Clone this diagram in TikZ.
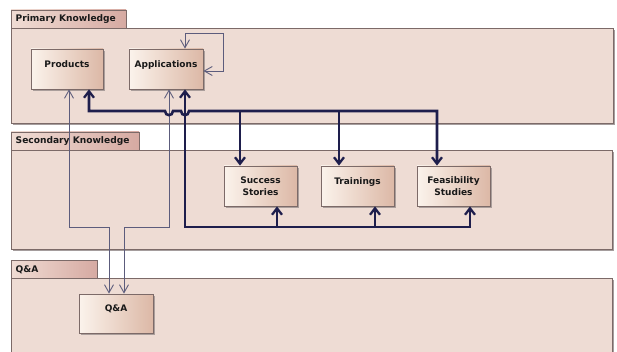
\documentclass[tikz,border=0pt]{standalone}
\usepackage{fontspec}
\setmainfont{DejaVu Sans}
\usetikzlibrary{arrows.meta,shadows}
\definecolor{pkgfill}{HTML}{EEDCD4}
\definecolor{pkgedge}{HTML}{7C6A68}
\definecolor{tabL}{HTML}{F0DCD4}
\definecolor{tabR}{HTML}{D6AAA2}
\definecolor{boxL}{HTML}{FBF3EC}
\definecolor{boxR}{HTML}{DCB8A6}
\definecolor{busclr}{HTML}{1E1E4C}
\definecolor{linkclr}{HTML}{5C5C7C}
\definecolor{shadowclr}{HTML}{8E8484}
\tikzset{
  pkgbody/.style={draw=pkgedge, fill=pkgfill, line width=0.9pt,
    drop shadow={shadow xshift=1.6pt, shadow yshift=-1.6pt, fill=shadowclr, opacity=0.8}},
  pkgtab/.style={draw=pkgedge, left color=tabL, right color=tabR, line width=0.9pt},
  tablabel/.style={anchor=west, font=\bfseries\fontsize{9.1}{10}\selectfont, text=black!90, inner sep=0pt},
  item/.style={draw=pkgedge, line width=0.8pt, left color=boxL, right color=boxR,
    minimum height=40pt, minimum width=73pt, align=center, inner sep=1pt,
    font=\bfseries\fontsize{9}{12}\selectfont, text=black!90,
    drop shadow={shadow xshift=2pt, shadow yshift=-2pt, fill=shadowclr, opacity=0.7}},
  bus/.style={draw=busclr, line width=2.6pt, line join=miter,
    arrows={Straight Barb[length=6.5pt,width=10pt,line width=2.3pt]-Straight Barb[length=6.5pt,width=10pt,line width=2.3pt]}},
  busend/.style={draw=busclr, line width=2.6pt,
    -{Straight Barb[length=6.5pt,width=10pt,line width=2.3pt]}},
  link/.style={draw=linkclr, line width=0.9pt,
    {Straight Barb[length=8pt,width=9pt,line width=0.9pt]}-{Straight Barb[length=8pt,width=9pt,line width=0.9pt]}},
}
\begin{document}
\begin{tikzpicture}[x=1pt,y=-1pt]
\useasboundingbox (0,0) rectangle (617,352);
\begin{scope}
\clip (0,0) rectangle (617,352);
% package frames
\draw[pkgbody] (11,28) rectangle (613,123);
\draw[pkgtab] (11,10) rectangle (126,28);
\node[tablabel] (tabprimary) at (15.5,19.5) {Primary Knowledge};

\draw[pkgbody] (11,150) rectangle (612,249);
\draw[pkgtab] (11,132) rectangle (139,150);
\node[tablabel] (tabsecondary) at (15.5,141.5) {Secondary Knowledge};

\draw[pkgbody] (11,278) rectangle (612,372);
\draw[pkgtab] (11,260) rectangle (97,278);
\node[tablabel] (tabqa) at (15.5,269.5) {Q\&A};
\end{scope}

% elements
\node[item, minimum width=72pt] (prod) at (67,69) {Products\\[-2pt]};
\node[item, minimum width=74pt] (app) at (166,69) {Applications\\[-2pt]};
\node[item] (ss) at (260.5,186) {Success\\Stories};
\node[item] (tr) at (357.5,186) {Trainings\\[-2pt]};
\node[item] (fs) at (453.5,186) {Feasibility\\Studies};
\node[item, minimum width=74pt, minimum height=39pt] (qa) at (116,313.5) {Q\&A\\[-2pt]};

% bus corners
\coordinate (ba) at (89,111);
\coordinate (bb) at (437,111);
\coordinate (ca) at (185,227);
\coordinate (cb) at (470,227);

% thin links to Q&A
\draw[link] (prod.south -| 69,0) -- (69,227) -- (109,227) -- (qa.north -| 109,0);
\draw[link] (app.south -| 169,0) -- (169,227) -- (124,227) -- (qa.north -| 124,0);

% self link on Applications
\draw[link] (app.north -| 185,0) -- (185,33) -- (223,33) -- (223,71) -- (app.east |- 0,71);

% bus from Products with hops over the crossing lines
\draw[bus] (prod.south -| ba) -- (ba) -- (165,111)
  .. controls (165,116.5) and (173,116.5) .. (173,111) -- (181,111)
  .. controls (181,116.5) and (189,116.5) .. (189,111) -- (bb) -- (fs.north -| bb);
\draw[busend] (240,111) -- (ss.north -| 240,0);
\draw[busend] (339,111) -- (tr.north -| 339,0);

% bus from Applications
\draw[bus] (app.south -| ca) -- (ca) -- (cb) -- (fs.south -| cb);
\draw[busend] (277,227) -- (ss.south -| 277,0);
\draw[busend] (375,227) -- (tr.south -| 375,0);
\end{tikzpicture}
\end{document}
